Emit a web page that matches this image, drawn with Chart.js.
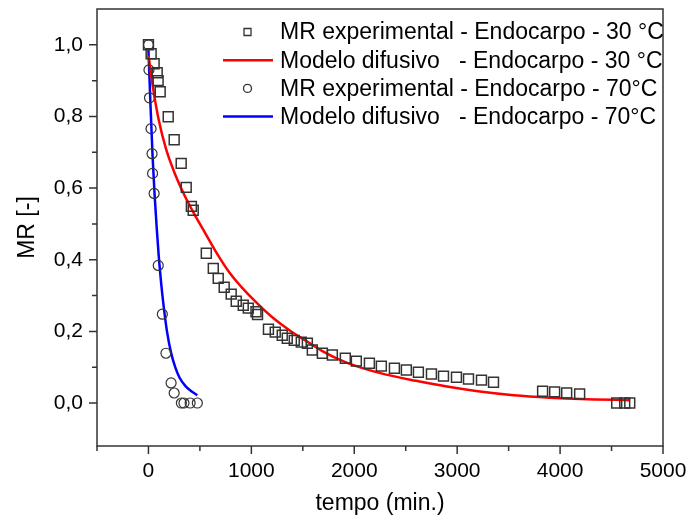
<!DOCTYPE html>
<html>
<head>
<meta charset="utf-8">
<script src="https://cdn.jsdelivr.net/npm/chart.js@4.4.1/dist/chart.umd.min.js"></script>
<style>
  html, body { margin: 0; padding: 0; background: #fff; }
</style>
</head>
<body>
<canvas id="mrChart" width="690" height="517"></canvas>
<script>
const fontFamily = "'Liberation Sans', Arial, sans-serif";

// MR experimental - 30 °C
const exp30Time = [0, 26, 55, 85, 94, 114, 192, 250, 318, 367, 417, 435, 562, 630, 678, 736, 804, 853, 921, 970,
    1045, 1060, 1166, 1232, 1300, 1349, 1417, 1485, 1544, 1592, 1690, 1787, 1913, 2020, 2147, 2263,
    2390, 2506, 2623, 2750, 2867, 2993, 3110, 3236, 3353, 3830, 3947, 4064, 4190, 4550, 4628, 4677];
const exp30MR = [1.0, 0.975, 0.947, 0.922, 0.90, 0.869, 0.799, 0.735, 0.669, 0.602, 0.549, 0.538, 0.418, 0.376, 0.348, 0.323, 0.304, 0.284, 0.273, 0.265,
    0.255, 0.247, 0.206, 0.198, 0.189, 0.181, 0.175, 0.170, 0.167, 0.148, 0.139, 0.134, 0.125, 0.117, 0.111, 0.103,
    0.097, 0.092, 0.086, 0.081, 0.075, 0.072, 0.067, 0.064, 0.058, 0.033, 0.031, 0.028, 0.025, 0.0, 0.0, 0.0];

// Modelo difusivo - 30 °C
const model30Time = [0, 50, 100, 170, 250, 350, 450, 550, 650, 785, 900, 1050, 1200, 1370, 1550, 1690, 1850, 2020,
    2300, 2600, 2900, 3200, 3550, 3900, 4200, 4680];
const model30MR = [0.97, 0.87, 0.79, 0.71, 0.645, 0.58, 0.525, 0.475, 0.425, 0.365, 0.325, 0.28, 0.24, 0.203, 0.17, 0.145, 0.122, 0.103,
    0.08, 0.062, 0.046, 0.033, 0.022, 0.015, 0.011, 0.008];

// MR experimental - 70 °C
const exp70Time = [0, 5, 10, 25, 35, 40, 55, 95, 135, 170, 220, 250, 320, 345, 405, 475];
const exp70MR = [1.0, 0.93, 0.852, 0.766, 0.696, 0.641, 0.585, 0.384, 0.248, 0.139, 0.056, 0.028, 0.0, 0.0, 0.0, 0.0];

// Modelo difusivo - 70 °C
const model70Time = [0, 20, 40, 60, 80, 100, 125, 150, 180, 220, 260, 300, 360, 420, 475];
const model70MR = [0.985, 0.83, 0.69, 0.58, 0.49, 0.41, 0.33, 0.265, 0.2, 0.14, 0.1, 0.072, 0.047, 0.032, 0.022];

const xTickValues = [-500, 0, 500, 1000, 1500, 2000, 2500, 3000, 3500, 4000, 4500, 5000];
const xMajorTicks = [0, 1000, 2000, 3000, 4000, 5000];
const yTickValues = [0, 0.1, 0.2, 0.3, 0.4, 0.5, 0.6, 0.7, 0.8, 0.9, 1.0];
const yMajorTicks = [0, 0.2, 0.4, 0.6, 0.8, 1.0];

const legendLabels = [
    "MR experimental - Endocarpo - 30 °C",
    "Modelo difusivo   - Endocarpo - 30 °C",
    "MR experimental - Endocarpo - 70°C",
    "Modelo difusivo   - Endocarpo - 70°C",
];

function toPoints(xs, ys) {
    return xs.map((x, i) => ({ x: x, y: ys[i] }));
}

function isMajor(list, v) {
    return list.some((m) => Math.abs(m - v) < 1e-9);
}

// frame + minor/major tick marks
const framePlugin = {
    id: "frameTicks",
    afterDraw(chart) {
        const { ctx, chartArea: a, scales } = chart;
        ctx.save();
        ctx.strokeStyle = "#333";
        ctx.lineWidth = 1.5;
        ctx.strokeRect(a.left, a.top, a.right - a.left, a.bottom - a.top);
        ctx.beginPath();
        scales.x.ticks.forEach((t) => {
            const px = scales.x.getPixelForValue(t.value);
            const len = isMajor(xMajorTicks, t.value) ? 8 : 5;
            ctx.moveTo(px, a.bottom);
            ctx.lineTo(px, a.bottom + len);
        });
        scales.y.ticks.forEach((t) => {
            const py = scales.y.getPixelForValue(t.value);
            const len = isMajor(yMajorTicks, t.value) ? 8 : 5;
            ctx.moveTo(a.left, py);
            ctx.lineTo(a.left - len, py);
        });
        ctx.stroke();
        ctx.restore();
    },
};

// legend drawn inside the plot, top right
const legendPlugin = {
    id: "insideLegend",
    afterDraw(chart) {
        const ctx = chart.ctx;
        ctx.save();
        ctx.font = "23px " + fontFamily;
        ctx.textBaseline = "middle";
        ctx.fillStyle = "#000";
        chart.data.datasets.forEach((ds, i) => {
            const y = 32 + i * 28.2;
            if (ds.showLine) {
                ctx.strokeStyle = ds.borderColor;
                ctx.lineWidth = 2.5;
                ctx.beginPath();
                ctx.moveTo(223, y);
                ctx.lineTo(273, y);
                ctx.stroke();
            } else {
                ctx.strokeStyle = "#333";
                ctx.lineWidth = 1.3;
                ctx.beginPath();
                if (ds.pointStyle === "rect") {
                    ctx.rect(244, y - 3.5, 7, 7);
                } else {
                    ctx.arc(247.5, y, 4, 0, Math.PI * 2);
                }
                ctx.stroke();
            }
            ctx.fillText(legendLabels[i], 280, y + 1);
        });
        ctx.restore();
    },
};

Chart.defaults.font.family = fontFamily;
Chart.defaults.color = "#000";

const ctx = document.getElementById("mrChart");
new Chart(ctx, {
    type: "scatter",
    data: {
        datasets: [
            {
                label: legendLabels[0],
                data: toPoints(exp30Time, exp30MR),
                pointStyle: "rect",
                pointRadius: 7,
                borderColor: "#333",
                borderWidth: 1.5,
                backgroundColor: "rgba(0,0,0,0)",
            },
            {
                label: legendLabels[1],
                data: toPoints(model30Time, model30MR),
                showLine: true,
                pointRadius: 0,
                borderColor: "#ff0000",
                borderWidth: 2.5,
                cubicInterpolationMode: "monotone",
            },
            {
                label: legendLabels[2],
                data: toPoints(exp70Time, exp70MR),
                pointStyle: "circle",
                pointRadius: 5,
                borderColor: "#333",
                borderWidth: 1.2,
                backgroundColor: "rgba(0,0,0,0)",
            },
            {
                label: legendLabels[3],
                data: toPoints(model70Time, model70MR),
                showLine: true,
                pointRadius: 0,
                borderColor: "#0000ff",
                borderWidth: 2.5,
                cubicInterpolationMode: "monotone",
            },
        ],
    },
    options: {
        responsive: false,
        animation: false,
        events: [],
        layout: {
            padding: { top: 9, right: 27, left: 0, bottom: 0 },
        },
        plugins: {
            legend: { display: false },
            tooltip: { enabled: false },
        },
        scales: {
            x: {
                type: "linear",
                min: -500,
                max: 5000,
                afterBuildTicks: (scale) => {
                    scale.ticks = xTickValues.map((v) => ({ value: v }));
                },
                afterFit: (scale) => {
                    scale.height = 71;
                    scale.paddingLeft = 0;
                    scale.paddingRight = 0;
                },
                grid: { display: false, drawTicks: false },
                border: { display: false },
                ticks: {
                    padding: 13,
                    maxRotation: 0,
                    autoSkip: false,
                    font: { size: 21 },
                    callback: (v) => (isMajor(xMajorTicks, v) ? String(v) : ""),
                },
                title: {
                    display: true,
                    text: "tempo (min.)",
                    font: { size: 23 },
                    padding: { top: 0, bottom: 0 },
                },
            },
            y: {
                min: -0.12,
                max: 1.1,
                afterBuildTicks: (scale) => {
                    scale.ticks = yTickValues.map((v) => ({ value: v }));
                },
                afterFit: (scale) => {
                    scale.width = 97;
                    scale.paddingTop = 0;
                    scale.paddingBottom = 0;
                },
                grid: { display: false, drawTicks: false },
                border: { display: false },
                ticks: {
                    padding: 14,
                    autoSkip: false,
                    font: { size: 21 },
                    callback: (v) => (isMajor(yMajorTicks, v) ? v.toFixed(1).replace(".", ",") : ""),
                },
                title: {
                    display: true,
                    text: "MR [-]",
                    font: { size: 23 },
                    padding: { top: 14, bottom: 0 },
                },
            },
        },
    },
    plugins: [framePlugin, legendPlugin],
});
</script>
</body>
</html>
